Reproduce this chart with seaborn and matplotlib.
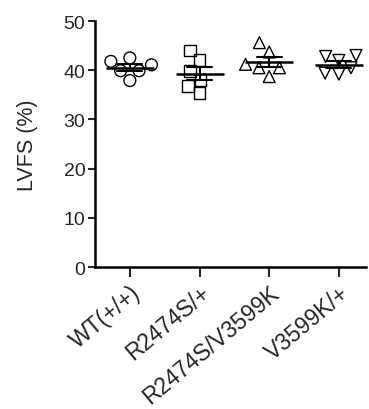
import numpy as np
import pandas as pd
import seaborn as sns
import matplotlib
matplotlib.use("Agg")
import matplotlib.pyplot as plt

# groups and the LVFS (%) values
groups = ["WT(+/+)", "R2474S/+", "R2474S/V3599K", "V3599K/+"]
wt = [41.8, 41.1, 42.5, 39.9, 39.9, 37.9]
r2474s = [44.0, 42.0, 39.8, 38.0, 36.8, 35.3]
double = [45.6, 43.7, 41.2, 40.5, 40.5, 38.7]
v3599k = [43.0, 42.8, 42.0, 40.5, 39.2, 39.4]
markers = ["o", "s", "^", "v"]

df = pd.DataFrame({
    "group": np.repeat(groups, 6),
    "LVFS": wt + r2474s + double + v3599k,
})

sns.set_style("ticks")
plt.rcParams["font.family"] = ["Liberation Sans", "DejaVu Sans"]

fig = plt.figure(figsize=(3.69, 4.10), dpi=100)
ax = fig.add_axes([0.2575, 0.3463, 0.7345, 0.6])

# open markers, one swarm per group so each gets its own marker
for g, m in zip(groups, markers):
    sns.swarmplot(data=df[df["group"] == g], x="group", y="LVFS", order=groups,
                  marker=m, size=8.5, facecolor="none", edgecolor="black",
                  linewidth=1.0, ax=ax, zorder=3)

# mean line with SEM error bars
sns.pointplot(data=df, x="group", y="LVFS", order=groups, errorbar="se",
              linestyle="none", marker="_", markersize=34, markeredgewidth=1.8,
              color="black", capsize=0.36, err_kws={"linewidth": 1.5},
              ax=ax, zorder=4)

ax.set_ylim(0, 50)
ax.set_xlim(-0.5, 3.39)
ax.set_yticks([0, 10, 20, 30, 40, 50])
ax.set_xlabel("")
ax.set_ylabel("LVFS (%)", fontsize=15.5, labelpad=18)
ax.tick_params(axis="y", length=5, pad=2, width=1.5, labelsize=14)
ax.tick_params(axis="x", length=7, pad=3, width=1.5, labelsize=16.5)
plt.setp(ax.get_xticklabels(), rotation=40, ha="right", rotation_mode="anchor")
for side in ["left", "bottom"]:
    ax.spines[side].set_linewidth(1.8)
    ax.spines[side].set_color("black")
sns.despine(ax=ax)

fig.savefig("out.png", dpi=100)
